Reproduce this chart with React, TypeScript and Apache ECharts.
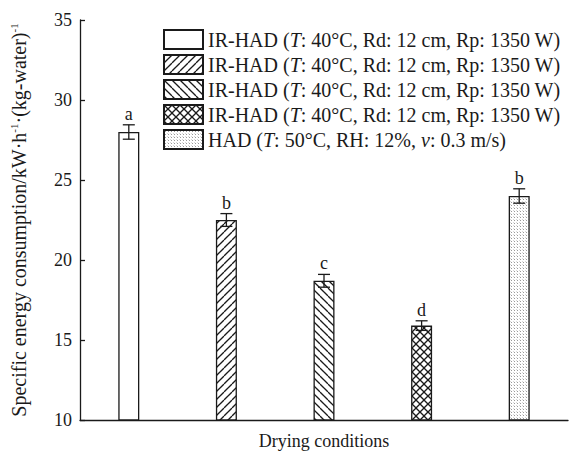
import React, { useEffect, useRef } from "react";
import * as echarts from "echarts";

const categories = ["IR-HAD 1", "IR-HAD 2", "IR-HAD 3", "IR-HAD 4", "HAD"];
const values = [28.0, 22.5, 18.7, 15.9, 24.0];
const errors = [0.45, 0.4, 0.4, 0.3, 0.45];
const letters = ["a", "b", "c", "d", "b"];
const seriesNames = ["c1", "c2", "c3", "c4", "c5"];
const legendLabels = [
  "{n|IR-HAD (}{i|T}{n|: 40°C, Rd: 12 cm, Rp: 1350 W)}",
  "{n|IR-HAD (}{i|T}{n|: 40°C, Rd: 12 cm, Rp: 1350 W)}",
  "{n|IR-HAD (}{i|T}{n|: 40°C, Rd: 12 cm, Rp: 1350 W)}",
  "{n|IR-HAD (}{i|T}{n|: 40°C, Rd: 12 cm, Rp: 1350 W)}",
  "{n|HAD (}{i|T}{n|: 50°C, RH: 12%, }{i|v}{n|: 0.3 m/s)}",
];
const yMin = 10;
const yMax = 35;
const yInterval = 5;

const FONT = "Liberation Serif";
const INK = "#1a1a1a";

function makePattern(kind: string): any {
  if (kind === "none") return "#ffffff";
  const c = document.createElement("canvas");
  const w = kind === "dots" ? 3 : 8;
  const h = kind === "dots" ? 3 : 8;
  c.width = w;
  c.height = h;
  const ctx = c.getContext("2d")!;
  ctx.fillStyle = "#ffffff";
  ctx.fillRect(0, 0, w, h);
  ctx.strokeStyle = INK;
  ctx.lineWidth = 1.3;
  const fwd = () => {
    for (const k of [-1, 0, 1]) {
      ctx.beginPath();
      ctx.moveTo(k * w, h);
      ctx.lineTo(k * w + w, 0);
      ctx.stroke();
    }
  };
  const back = () => {
    for (const k of [-1, 0, 1]) {
      ctx.beginPath();
      ctx.moveTo(k * w, 0);
      ctx.lineTo(k * w + w, h);
      ctx.stroke();
    }
  };
  if (kind === "fwd") fwd();
  if (kind === "back") back();
  if (kind === "cross") {
    fwd();
    back();
  }
  if (kind === "dots") {
    ctx.fillStyle = "#9a9a9a";
    ctx.fillRect(1, 1, 1, 1);
    ctx.fillStyle = "#d8d8d8";
    ctx.fillRect(0, 0, 1, 1);
  }
  return { image: c, repeat: "repeat" };
}

export default function App() {
  const ref = useRef<HTMLDivElement>(null);
  useEffect(() => {
    if (!ref.current) return;
    const chart = echarts.init(ref.current, null, { renderer: "svg" });
    const kinds = ["none", "fwd", "back", "cross", "dots"];
    const barSeries = seriesNames.map((name, i) => ({
      name,
      type: "bar",
      barWidth: 21,
      barGap: "-100%",
      data: values.map((v, j) => (j === i ? v : "-")),
      itemStyle: {
        color: makePattern(kinds[i]),
        borderColor: INK,
        borderWidth: 1.3,
      },
    }));
    const errData = values.map((v, i) => [i, v, errors[i], letters[i]]);
    const option: any = {
      animation: false,
      grid: { left: 66, right: 1, top: 20, bottom: 25, containLabel: false },
      legend: {
        data: seriesNames,
        orient: "vertical",
        left: 158,
        top: 24,
        itemWidth: 39,
        itemHeight: 19,
        itemGap: 4,
        icon: "rect",
        selectedMode: false,
        formatter: (name: string) => legendLabels[seriesNames.indexOf(name)],
        textStyle: {
          fontFamily: FONT,
          fontSize: 20,
          color: INK,
          lineHeight: 19,
          rich: {
            n: { fontFamily: FONT, fontSize: 20, color: INK, lineHeight: 19 },
            i: { fontFamily: FONT, fontSize: 20, color: INK, fontStyle: "italic", lineHeight: 19 },
          },
        },
      },
      xAxis: {
        type: "category",
        data: categories,
        boundaryGap: true,
        name: "Drying conditions",
        nameLocation: "middle",
        nameGap: 12,
        nameTextStyle: { fontFamily: FONT, fontSize: 18, color: INK },
        axisLine: { lineStyle: { color: INK, width: 1.3 } },
        axisTick: { inside: true, length: 5, lineStyle: { color: INK, width: 1.3 } },
        axisLabel: { show: false },
        splitLine: { show: false },
      },
      yAxis: {
        type: "value",
        min: yMin,
        max: yMax,
        interval: yInterval,
        name:
          "{n|Specific energy consumption/kW·h}{s|-1}{n|·(kg-water)}{s|-1}",
        nameLocation: "middle",
        nameGap: 51,
        nameRotate: 90,
        nameTextStyle: {
          fontFamily: FONT,
          fontSize: 20,
          color: INK,
          rich: {
            n: { fontFamily: FONT, fontSize: 20, color: INK, lineHeight: 21 },
            s: { fontFamily: FONT, fontSize: 11, color: INK, verticalAlign: "top", lineHeight: 21 },
          },
        },
        axisLine: { show: true, lineStyle: { color: INK, width: 1.3 } },
        axisTick: { show: true, inside: true, length: 5, lineStyle: { color: INK, width: 1.3 } },
        axisLabel: { fontFamily: FONT, fontSize: 18, color: INK, margin: 8 },
        splitLine: { show: false },
      },
      series: [
        ...barSeries,
        {
          type: "custom",
          name: "err",
          data: errData,
          z: 10,
          renderItem: (params: any, api: any) => {
            const x = api.value(0);
            const v = api.value(1);
            const e = api.value(2);
            const letter = letters[params.dataIndex];
            const top = api.coord([x, v + e]);
            const bot = api.coord([x, v - e]);
            const cap = 6;
            const st = { stroke: INK, lineWidth: 1.3 };
            return {
              type: "group",
              children: [
                { type: "line", shape: { x1: top[0], y1: top[1], x2: bot[0], y2: bot[1] }, style: st },
                { type: "line", shape: { x1: top[0] - cap, y1: top[1], x2: top[0] + cap, y2: top[1] }, style: st },
                { type: "line", shape: { x1: bot[0] - cap, y1: bot[1], x2: bot[0] + cap, y2: bot[1] }, style: st },
                {
                  type: "text",
                  x: top[0],
                  y: top[1] - 2,
                  style: {
                    text: letter,
                    fontFamily: FONT,
                    fontSize: 18,
                    fill: INK,
                    align: "center",
                    verticalAlign: "bottom",
                  },
                },
              ],
            };
          },
        },
      ],
    };
    chart.setOption(option);
    return () => chart.dispose();
  }, []);
  return (
    <div
      ref={ref}
      style={{ position: "fixed", left: 0, top: 0, width: 569, height: 455, background: "#fff" }}
    />
  );
}
